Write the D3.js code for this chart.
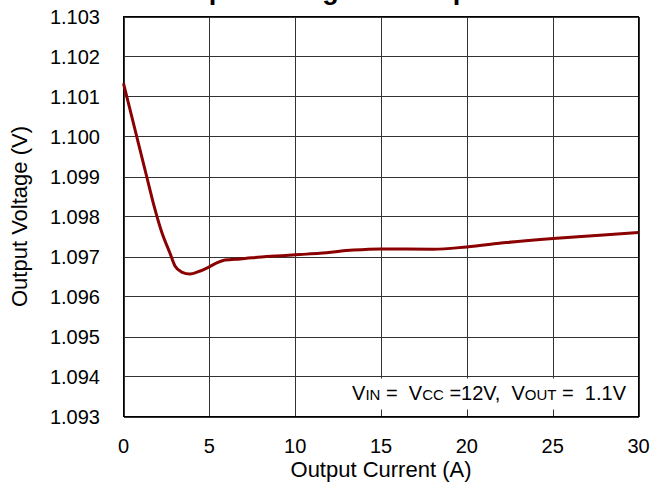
<!DOCTYPE html>
<html>
<head>
  <meta charset="utf-8">
  <script src="https://d3js.org/d3.v7.min.js"></script>
  <style>
    body { margin: 0; background: #fff; }
    svg { font-family: "Liberation Sans", Arial, sans-serif; display: block; }
    .grid line { stroke: #333; stroke-width: 1; shape-rendering: crispEdges; }
    .tick-label { font-size: 20px; fill: #000; }
    .axis-title { font-size: 22px; fill: #000; }
  </style>
</head>
<body>
  <svg width="650" height="488"></svg>

  <script>
    // Output current (A) vs output voltage (V)
    const current = [0, 0.77, 1.35, 1.74, 2.22, 2.71, 3.0, 3.39, 3.87, 4.36, 4.94, 5.43, 5.91,
                     6.79, 8.34, 10.28, 11.44, 13.38, 14.94, 18.05, 19.99, 22.32, 25.03, 27.75, 30];
    const voltage = [1.10133, 1.1000, 1.0990, 1.09833, 1.09762, 1.09708, 1.09676, 1.09661, 1.09656,
                     1.09662, 1.09673, 1.09684, 1.09691, 1.09694, 1.09700, 1.09705, 1.09708, 1.09716,
                     1.09719, 1.09718, 1.09724, 1.09735, 1.09745, 1.09753, 1.09760];

    const xTicks = [0, 5, 10, 15, 20, 25, 30];
    const yTicks = [1.093, 1.094, 1.095, 1.096, 1.097, 1.098, 1.099, 1.100, 1.101, 1.102, 1.103];

    const svg = d3.select("svg");
    const pL = 123.5, pR = 638.5, pT = 16.5, pB = 416.5;

    const x = d3.scaleLinear().domain([0, 30]).range([pL, pR]);
    const y = d3.scaleLinear().domain([1.093, 1.103]).range([pB, pT]);

    // grid
    const grid = svg.append("g").attr("class", "grid");
    grid.selectAll(".vx").data(xTicks).enter().append("line")
      .attr("x1", d => Math.round(x(d)) + 0.5).attr("x2", d => Math.round(x(d)) + 0.5)
      .attr("y1", pT).attr("y2", pB);
    grid.selectAll(".hy").data(yTicks).enter().append("line")
      .attr("x1", pL).attr("x2", pR)
      .attr("y1", d => Math.round(y(d)) + 0.5).attr("y2", d => Math.round(y(d)) + 0.5);

    // annotation box covers part of the grid
    svg.append("rect")
      .attr("x", x(10) + 1.5).attr("y", y(1.094) + 2)
      .attr("width", pR - x(10) - 3).attr("height", 31)
      .attr("fill", "#fff");

    const note = svg.append("text")
      .attr("x", 626).attr("y", 400)
      .attr("text-anchor", "end")
      .attr("font-size", 20)
      .attr("xml:space", "preserve");
    [["V", 20], ["IN", 15], [" =  V", 20], ["CC", 15], [" =12V,  V", 20], ["OUT", 15], [" =  1.1V", 20]]
      .forEach(p => note.append("tspan").attr("font-size", p[1]).text(p[0]));

    // plot border
    svg.append("rect")
      .attr("x", pL).attr("y", pT)
      .attr("width", pR - pL).attr("height", pB - pT)
      .attr("fill", "none").attr("stroke", "#000").attr("stroke-width", 1);

    // curve
    const line = d3.line()
      .x((d, i) => x(current[i]))
      .y(d => y(d))
      .curve(d3.curveMonotoneX);
    svg.append("path")
      .datum(voltage)
      .attr("d", line)
      .attr("fill", "none")
      .attr("stroke", "#8b0000")
      .attr("stroke-width", 3);

    // tick labels
    svg.selectAll(".ylab").data(yTicks).enter().append("text")
      .attr("class", "tick-label")
      .attr("x", 100).attr("y", d => y(d))
      .attr("dy", "0.36em")
      .attr("text-anchor", "end")
      .text(d => d.toFixed(3));
    svg.selectAll(".xlab").data(xTicks).enter().append("text")
      .attr("class", "tick-label")
      .attr("x", d => x(d)).attr("y", 453)
      .attr("text-anchor", "middle")
      .text(d => d);

    // titles
    svg.append("text")
      .attr("class", "axis-title")
      .attr("x", (pL + pR) / 2).attr("y", 477)
      .attr("text-anchor", "middle")
      .text("Output Current (A)");
    svg.append("text")
      .attr("class", "axis-title")
      .attr("transform", "translate(27," + (pT + pB) / 2 + ") rotate(-90)")
      .attr("text-anchor", "middle")
      .text("Output Voltage (V)");
    svg.append("text")
      .attr("x", (pL + pR) / 2).attr("y", -1)
      .attr("text-anchor", "middle")
      .attr("font-size", 27).attr("font-weight", "bold")
      .text("Output Voltage vs. Output Current");
  </script>
</body>
</html>
